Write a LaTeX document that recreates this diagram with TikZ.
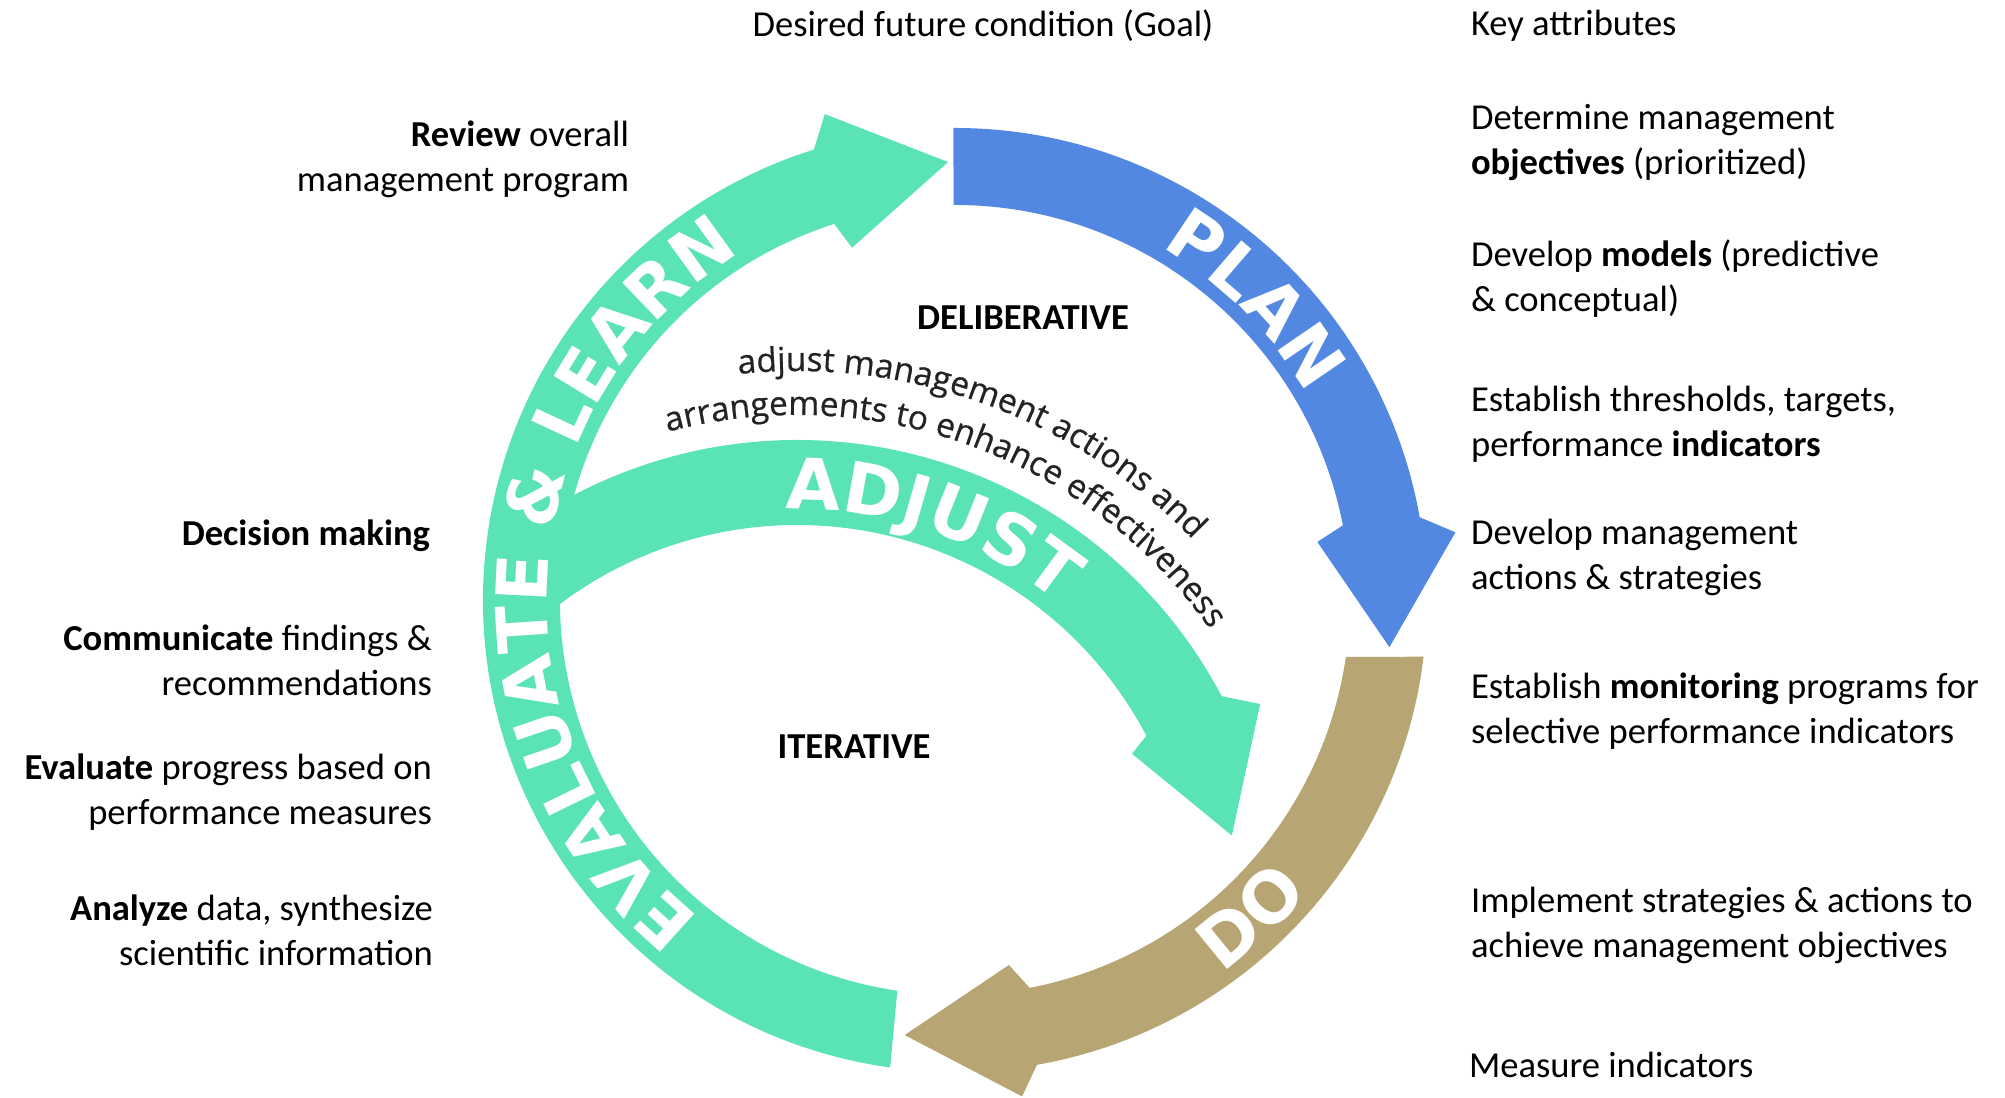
\documentclass[tikz,border=0pt]{standalone}
\usepackage{fontspec}
\setmainfont{Carlito}
\newfontfamily\arcfont{DejaVu Sans}
\newfontfamily\notefont{Open Sans}[FakeBold=0.6]
\usetikzlibrary{decorations.text}
\definecolor{evalgreen}{RGB}{90,228,182}
\definecolor{planblue}{RGB}{82,136,226}
\definecolor{dotan}{RGB}{183,165,115}
\definecolor{notegray}{RGB}{35,35,35}

\begin{document}
\begin{tikzpicture}[
    x=0.01cm, y=0.01cm,
    semithick,
    arclabel/.style={decorate, decoration={text along path, text align=center,
        text={|\arcfont\bfseries\fontsize{20}{20}\selectfont\color{white}|#1}}},
    arcnote/.style={decorate, decoration={text along path, text align=center,
        text={|\notefont\fontsize{9.5}{10}\selectfont\color{notegray}|#1}}},
    ]
    \tikzstyle{rlabel}=[anchor=west, align=left, inner sep=0pt, font=\fontsize{10.4}{12.8}\selectfont]
    \tikzstyle{llabel}=[anchor=east, align=right, inner sep=0pt, font=\fontsize{10.4}{12.8}\selectfont]
    \tikzstyle{phase}=[inner sep=0pt, font=\fontsize{10.4}{12.8}\selectfont\bfseries]
    \useasboundingbox (0,0) rectangle (2005,1098);
    \coordinate (ring) at (955,498);
    \coordinate (adj) at (797,178);
    \begin{scope}[shift={(adj)}]
    \fill[evalgreen] (130:480) arc[start angle=130, end angle=27.8, radius=480] -- (25:511) -- (11:443) -- (26.4:374) -- (27.8:395) arc[start angle=27.8, end angle=130, radius=395] -- cycle;
    \end{scope}
    \begin{scope}[shift={(ring)}]
    \fill[evalgreen] (262.1:472) arc[start angle=262.1, end angle=107.4, radius=472] -- (105:503) -- (90.9:438) -- (106.3:367) -- (107.8:395) arc[start angle=107.8, end angle=261.6, radius=395] -- cycle;
    \fill[planblue] (90.2:472) arc[start angle=90.2, end angle=10.1, radius=472] -- (7.7:505) -- (-6.2:437) -- (9.1:367) -- (10.9:395) arc[start angle=10.9, end angle=90.2, radius=395] -- cycle;
    \fill[dotan] (-6.9:472) arc[start angle=-6.9, end angle=-80, radius=472] -- (-82.3:501) -- (-96.6:438) -- (-81.6:369) -- (-79.1:395) arc[start angle=-79.1, end angle=-8.3, radius=395] -- cycle;
    \path[arclabel={EVALUATE {\&} LEARN}] (240:408) arc[start angle=240, end angle=113, radius=408];
    \path[arclabel={PLAN}] (75:408) arc[start angle=75, end angle=15, radius=408];
    \path[arclabel={DO}] (-75:459) arc[start angle=-75, end angle=-19, radius=459];
    \end{scope}
    \begin{scope}[shift={(adj)}]
    \path[arclabel={ADJUST}] (105:411) arc[start angle=105, end angle=37, radius=411];
    \path[arcnote={adjust management actions and}] (100:549) arc[start angle=100, end angle=40, radius=549];
    \path[arcnote={arrangements to enhance effectiveness}] (106:505) arc[start angle=106, end angle=34, radius=505];
    \end{scope}
    \node[phase] (delib) at (1023,780) {DELIBERATIVE};
    \node[phase] (iter) at (854,351) {ITERATIVE};
    \node[inner sep=0pt, font=\fontsize{10.4}{12.8}\selectfont] (goal) at (983,1072) {Desired future condition (Goal)};
    \node[rlabel] (key) at (1470,1072) {Key attributes};
    \node[rlabel] (objectives) at (1470,955.5) {Determine management\\\textbf{objectives} (prioritized)};
    \node[rlabel] (models) at (1470,819.5) {Develop \textbf{models} (predictive\\\& conceptual)};
    \node[rlabel] (thresholds) at (1470,674) {Establish thresholds, targets,\\performance \textbf{indicators}};
    \node[rlabel] (actions) at (1470,540.5) {Develop management\\actions \& strategies};
    \node[rlabel] (monitoring) at (1470,387) {Establish \textbf{monitoring} programs for\\selective performance indicators};
    \node[rlabel] (implement) at (1470,172.5) {Implement strategies \& actions to\\achieve management objectives};
    \node[rlabel] (measure) at (1468,33) {Measure indicators};
    \node[llabel] (review) at (630,938.5) {\textbf{Review} overall\\management program};
    \node[llabel] (decision) at (431,562) {\textbf{Decision making}};
    \node[llabel] (communicate) at (433,438) {\textbf{Communicate} findings \&\\recommendations};
    \node[llabel] (evaluate) at (433,305.5) {\textbf{Evaluate} progress based on\\performance measures};
    \node[llabel] (analyze) at (434,167.5) {\textbf{Analyze} data, synthesize\\scientific information};
\end{tikzpicture}
\end{document}
